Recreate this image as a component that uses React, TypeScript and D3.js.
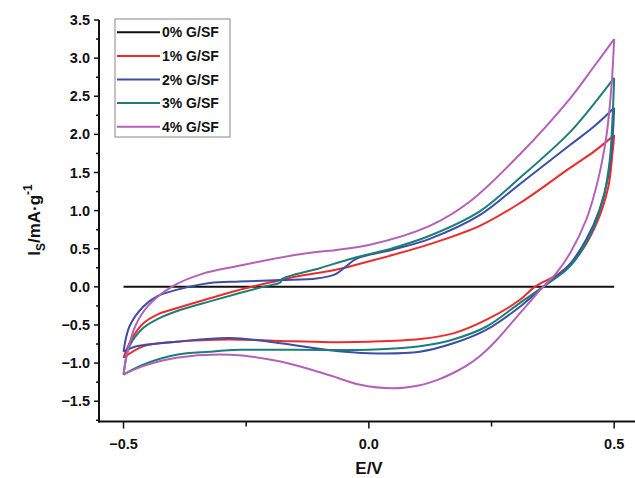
import React from "react";
import * as d3 from "d3";

type P = [number, number];

const seriesNames = ["0% G/SF", "1% G/SF", "2% G/SF", "3% G/SF", "4% G/SF"];
const seriesColors = ["#111111", "#ee2b2b", "#3c4ea6", "#1e7d78", "#b461b8"];

const xTicks = [-0.5, 0.0, 0.5];
const xMinorTicks = [-0.25, 0.25];
const yTicks = [-1.5, -1.0, -0.5, 0.0, 0.5, 1.0, 1.5, 2.0, 2.5, 3.0, 3.5];
const yMinorTicks = [-1.75, -1.25, -0.75, -0.25, 0.25, 0.75, 1.25, 1.75, 2.25, 2.75, 3.25];

// 0% G/SF
const g0: P[] = [[-0.5, 0], [0.5, 0]];

// 1% G/SF
const g1Up: P[] = [[-0.5, -0.93], [-0.485, -0.7], [-0.46, -0.48], [-0.43, -0.36], [-0.392, -0.28], [-0.324, -0.15], [-0.27, -0.05], [-0.2, 0.06], [-0.148, 0.135], [-0.07, 0.22], [-0.02, 0.3], [0.05, 0.42], [0.124, 0.56], [0.226, 0.8], [0.308, 1.1], [0.41, 1.56], [0.46, 1.78], [0.5, 1.99]];
const g1Down: P[] = [[0.5, 1.99], [0.4965, 1.75], [0.488, 1.31], [0.464, 0.83], [0.43, 0.44], [0.389, 0.18], [0.338, 0], [0.308, -0.17], [0.24, -0.43], [0.172, -0.61], [0.104, -0.685], [0.0, -0.72], [-0.08, -0.725], [-0.18, -0.71], [-0.283, -0.69], [-0.392, -0.72], [-0.46, -0.78], [-0.5, -0.93]];

// 2% G/SF
const g2Up: P[] = [[-0.5, -0.85], [-0.488, -0.52], [-0.46, -0.26], [-0.43, -0.12], [-0.392, -0.04], [-0.324, 0.05], [-0.263, 0.07], [-0.18, 0.09], [-0.107, 0.11], [-0.07, 0.16], [-0.05, 0.25], [-0.025, 0.37], [0.05, 0.49], [0.124, 0.63], [0.226, 0.94], [0.308, 1.35], [0.41, 1.86], [0.46, 2.11], [0.5, 2.35]];
const g2Down: P[] = [[0.5, 2.35], [0.4965, 1.94], [0.488, 1.45], [0.47, 1.01], [0.443, 0.62], [0.406, 0.27], [0.355, 0], [0.308, -0.26], [0.24, -0.56], [0.172, -0.74], [0.104, -0.85], [0.0, -0.87], [-0.08, -0.83], [-0.18, -0.74], [-0.283, -0.67], [-0.392, -0.72], [-0.474, -0.78], [-0.5, -0.85]];

// 3% G/SF
const g3Up: P[] = [[-0.5, -1.15], [-0.488, -0.78], [-0.46, -0.54], [-0.43, -0.42], [-0.392, -0.32], [-0.324, -0.19], [-0.263, -0.08], [-0.216, 0.0], [-0.18, 0.06], [-0.178, 0.1], [-0.1, 0.245], [-0.032, 0.376], [0.05, 0.51], [0.124, 0.67], [0.226, 0.99], [0.308, 1.43], [0.41, 2.03], [0.46, 2.41], [0.5, 2.74]];
const g3Down: P[] = [[0.5, 2.74], [0.4965, 2.19], [0.491, 1.66], [0.477, 1.14], [0.45, 0.66], [0.41, 0.27], [0.355, 0], [0.308, -0.21], [0.24, -0.52], [0.172, -0.69], [0.104, -0.78], [0.05, -0.81], [0.0, -0.826], [-0.15, -0.826], [-0.263, -0.826], [-0.324, -0.85], [-0.392, -0.89], [-0.46, -1.02], [-0.5, -1.15]];

// 4% G/SF
const g4Up: P[] = [[-0.5, -1.15], [-0.49, -0.8], [-0.475, -0.5], [-0.45, -0.25], [-0.402, 0.0], [-0.34, 0.17], [-0.27, 0.27], [-0.148, 0.42], [0.0, 0.55], [0.124, 0.8], [0.206, 1.12], [0.308, 1.74], [0.41, 2.47], [0.46, 2.9], [0.5, 3.25]];
const g4Down: P[] = [[0.5, 3.25], [0.4945, 2.63], [0.484, 1.97], [0.467, 1.4], [0.443, 0.88], [0.41, 0.44], [0.382, 0.18], [0.355, 0], [0.325, -0.22], [0.294, -0.45], [0.26, -0.7], [0.226, -0.91], [0.2, -1.03], [0.172, -1.13], [0.14, -1.22], [0.104, -1.29], [0.049, -1.33], [-0.02, -1.28], [-0.08, -1.16], [-0.18, -0.98], [-0.283, -0.89], [-0.392, -0.93], [-0.46, -1.04], [-0.5, -1.15]];

const seriesData: P[][][] = [[g0], [g1Up, g1Down], [g2Up, g2Down], [g3Up, g3Down], [g4Up, g4Down]];

const W = 635;
const H = 478;

export default function App() {
  const x = d3.scaleLinear().domain([-0.55, 0.55]).range([99, 638.7]);
  const y = d3.scaleLinear().domain([-1.766, 3.5]).range([421.5, 20]);
  const line = d3
    .line<P>()
    .x((d) => x(d[0]))
    .y((d) => y(d[1]))
    .curve(d3.curveCatmullRom.alpha(0.5));
  const font = "'Liberation Sans', Arial, sans-serif";
  const axisY = 421.5;
  const axisX = 99;
  return (
    <svg
      width={W}
      height={H}
      style={{ position: "absolute", left: 0, top: 0, background: "#fff" }}
      fontFamily={font}
      fontWeight="bold"
    >
      {/* series */}
      {seriesData.map((segs, i) =>
        segs.map((seg, j) => (
          <path
            key={`${i}-${j}`}
            d={line(seg) || ""}
            fill="none"
            stroke={seriesColors[i]}
            strokeWidth={2}
            strokeLinejoin="round"
          />
        ))
      )}
      {/* axes */}
      <line x1={axisX} x2={axisX} y1={y(3.5)} y2={axisY + 1} stroke="#111" strokeWidth={2} />
      <line x1={axisX - 1} x2={W} y1={axisY} y2={axisY} stroke="#111" strokeWidth={2} />
      {yTicks.map((t) => (
        <g key={`yt${t}`}>
          <line x1={axisX - 5} x2={axisX} y1={y(t)} y2={y(t)} stroke="#111" strokeWidth={1.5} />
          <text x={axisX - 9} y={y(t)} dy="0.35em" textAnchor="end" fontSize={14.5} fill="#111">
            {d3.format(".1f")(t)}
          </text>
        </g>
      ))}
      {yMinorTicks.map((t) => (
        <line key={`ym${t}`} x1={axisX - 3} x2={axisX} y1={y(t)} y2={y(t)} stroke="#111" strokeWidth={1.5} />
      ))}
      {xTicks.map((t) => (
        <g key={`xt${t}`}>
          <line x1={x(t)} x2={x(t)} y1={axisY} y2={axisY + 7} stroke="#111" strokeWidth={1.5} />
          <text x={x(t)} y={axisY + 27} textAnchor="middle" fontSize={14.5} fill="#111">
            {d3.format(".1f")(t)}
          </text>
        </g>
      ))}
      {xMinorTicks.map((t) => (
        <line key={`xm${t}`} x1={x(t)} x2={x(t)} y1={axisY} y2={axisY + 5} stroke="#111" strokeWidth={1.5} />
      ))}
      {/* axis titles */}
      <text x={369} y={474} textAnchor="middle" fontSize={17} fill="#111">
        E/V
      </text>
      <text
        transform="translate(40,220) rotate(-90)"
        textAnchor="middle"
        fontSize={17}
        fill="#111"
      >
        I
        <tspan fontSize={12} dy={5}>S</tspan>
        <tspan dy={-5}>/mA·g</tspan>
        <tspan fontSize={12} dy={-8}>-1</tspan>
      </text>
      {/* legend */}
      <rect x={115} y={19} width={115} height={118} fill="#fff" stroke="#888" strokeWidth={1} />
      {seriesNames.map((name, i) => {
        const cy = 32.3 + i * 23.6;
        return (
          <g key={name}>
            <line x1={117} x2={160} y1={cy} y2={cy} stroke={seriesColors[i]} strokeWidth={2} />
            <text x={162} y={cy} dy="0.36em" fontSize={14} fill="#111">
              {name}
            </text>
          </g>
        );
      })}
    </svg>
  );
}
